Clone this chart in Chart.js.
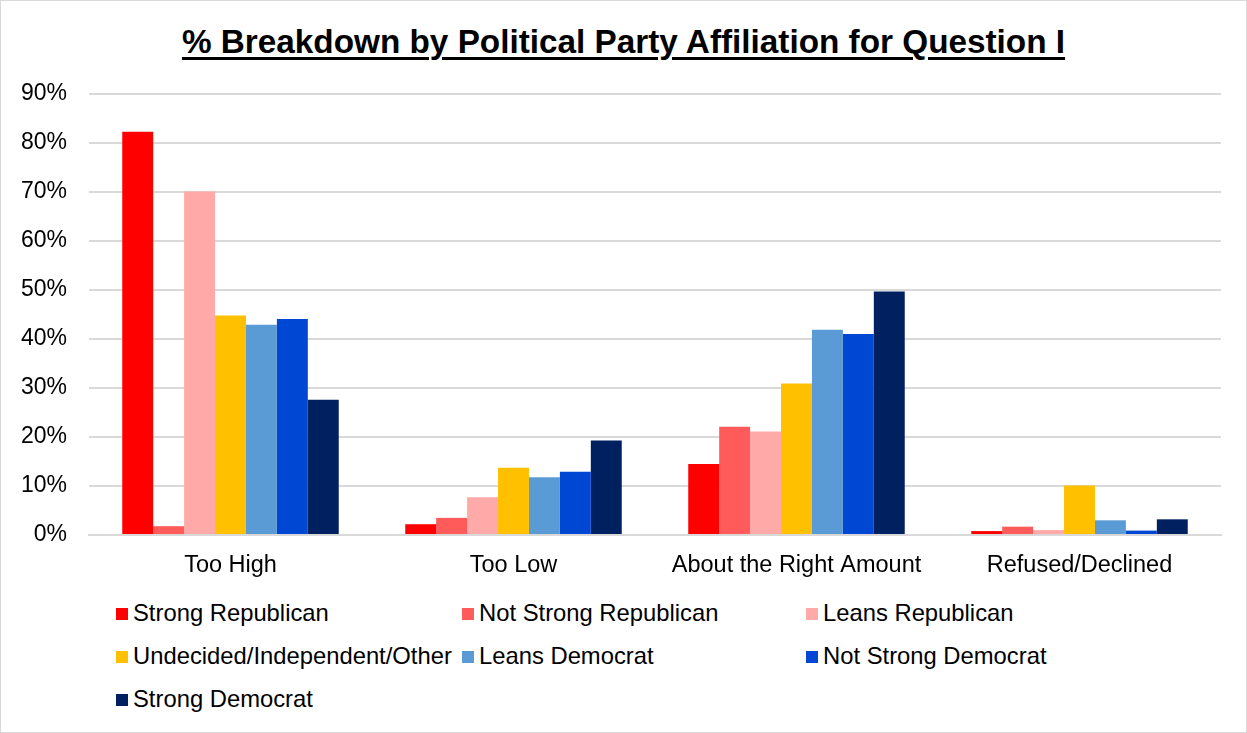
<!DOCTYPE html>
<html>
<head>
<meta charset="utf-8">
<script src="https://cdn.jsdelivr.net/npm/chart.js@4"></script>
<style>
  html, body { margin: 0; padding: 0; background: #fff; }
  #frame {
    position: relative; width: 1245px; height: 731px;
    border: 1px solid #d9d9d9; overflow: hidden;
    font-family: "Liberation Sans", Arial, sans-serif;
  }
  #title {
    position: absolute; left: 0; top: 22px; width: 1245px; text-align: center;
    font-weight: bold; font-size: 33.3px; text-decoration: underline;
    text-decoration-thickness: 3px; text-underline-offset: 4px; color: #000;
  }
  #wrap { position: absolute; left: 0; top: 0; width: 1245px; height: 590px; }
  #legend { position: absolute; left: 115px; top: 598px; }
  .item { position: absolute; white-space: nowrap; font-size: 23.8px; color: #000; }
  .box { display: inline-block; width: 12px; height: 12px; margin-right: 5px; vertical-align: 1px; }
</style>
</head>
<body>
<div id="frame">
  <div id="title">% Breakdown by Political Party Affiliation for Question I</div>
  <div id="wrap"><canvas id="chart"></canvas></div>
  <div id="legend"></div>
</div>
<script>
// categories and series values (percent)
const categories = ['Too High', 'Too Low', 'About the Right Amount', 'Refused/Declined'];
const seriesNames = ['Strong Republican', 'Not Strong Republican', 'Leans Republican',
  'Undecided/Independent/Other', 'Leans Democrat', 'Not Strong Democrat', 'Strong Democrat'];
const strongRep    = [82.3, 2.2, 14.5, 0.8];
const notStrongRep = [1.8, 3.5, 22.1, 1.7];
const leansRep     = [70.1, 7.7, 21.1, 1.0];
const undecided    = [44.8, 13.7, 30.9, 10.1];
const leansDem     = [42.9, 11.8, 41.9, 3.0];
const notStrongDem = [44.1, 12.9, 41.0, 0.9];
const strongDem    = [27.6, 19.3, 49.7, 3.2];
const colors = ['#FF0000', '#FF5B5B', '#FFA9A9', '#FFC000', '#5B9BD5', '#0047D4', '#002060'];

const values = [strongRep, notStrongRep, leansRep, undecided, leansDem, notStrongDem, strongDem];

const datasets = seriesNames.map((name, i) => ({
    label: name,
    data: values[i],
    backgroundColor: colors[i],
    borderWidth: 0,
    categoryPercentage: 0.765,
    barPercentage: 1.0
}));

const ctx = document.getElementById('chart').getContext('2d');
new Chart(ctx, {
    type: 'bar',
    data: { labels: categories, datasets: datasets },
    options: {
        responsive: true,
        maintainAspectRatio: false,
        animation: false,
        layout: { padding: { left: 10, right: 25, top: 93, bottom: 0 } },
        plugins: { legend: { display: false }, tooltip: { enabled: false } },
        scales: {
            x: {
                grid: { display: false },
                border: { color: '#d9d9d9', width: 2 },
                ticks: { color: '#000', font: { family: 'Liberation Sans', size: 23.5 }, padding: 8 },
                afterFit: s => { s.height = 56; }
            },
            y: {
                min: 0, max: 90,
                ticks: {
                    stepSize: 10, color: '#000', padding: 22,
                    font: { family: 'Liberation Sans', size: 23 },
                    callback: v => v + '%'
                },
                grid: { color: '#d9d9d9', lineWidth: 2, drawTicks: false },
                border: { display: false },
                afterFit: s => { s.width = 78; }
            }
        }
    }
});

// legend laid out in three columns, like the original
const legendCols = [0, 346, 690];
const legendRowGap = 43;
const legendEl = document.getElementById('legend');
seriesNames.forEach((name, i) => {
    const item = document.createElement('div');
    item.className = 'item';
    item.style.left = legendCols[i % 3] + 'px';
    item.style.top = Math.floor(i / 3) * legendRowGap + 'px';
    item.innerHTML = '<span class="box" style="background:' + colors[i] + '"></span>' + name;
    legendEl.appendChild(item);
});
</script>
</body>
</html>
